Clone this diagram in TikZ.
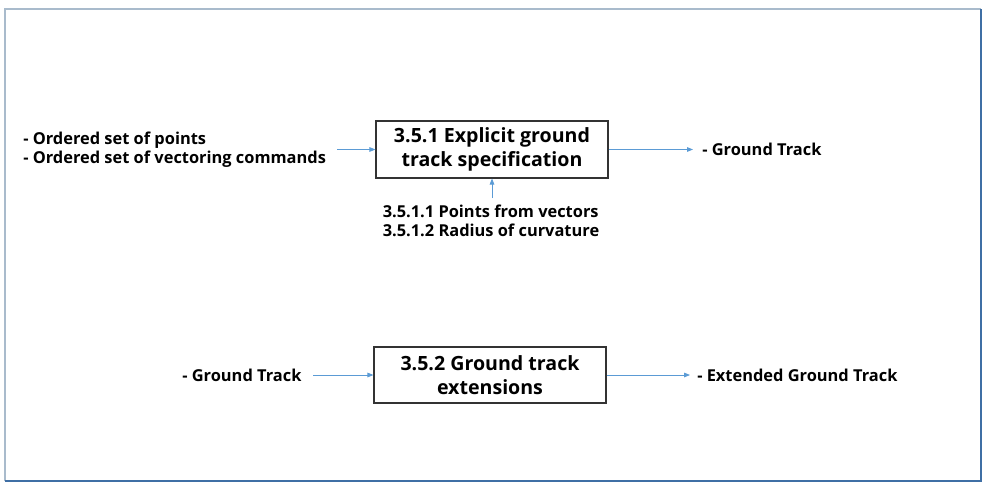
\documentclass[tikz,border=0pt]{standalone}
\usepackage{fontspec}
\setmainfont{Open Sans}
\usetikzlibrary{arrows.meta}
\definecolor{arr}{HTML}{5B9BD5}
\definecolor{frameA}{HTML}{A9BBCC}
\definecolor{frameB}{HTML}{3F6FA5}
\begin{document}
\begin{tikzpicture}[x=0.75pt,y=-0.75pt,
  proc/.style={draw=black!80,line width=0.9pt,minimum width=232*0.75pt,align=center,font=\fontsize{14.7}{18}\selectfont\bfseries,inner sep=0pt},
  lbl/.style={align=left,font=\fontsize{12.3}{14.2}\selectfont\bfseries,inner sep=0pt},
  flow/.style={draw=arr,line width=0.6pt,-{Triangle[length=4.5pt,width=3.5pt]}}]
\useasboundingbox (0,0) rectangle (987,485);
\draw[frameA,line width=1pt] (5,481) -- (5,9) -- (981,9);
\draw[frameB,line width=1pt] (981,9) -- (981,481) -- (5,481);
\node[proc,minimum height=57*0.75pt] (p1) at (492,149.5) {3.5.1 Explicit ground\\track specification};
\node[proc,minimum height=56*0.75pt] (p2) at (490,375) {3.5.2 Ground track\\extensions};
\node[lbl,anchor=west] (in1) at (23,149.5) {- Ordered set of points\\- Ordered set of vectoring commands};
\node[lbl,anchor=west] (out1) at (702,149.5) {- Ground Track};
\node[lbl,anchor=center] (sub1) at (491,221) {3.5.1.1 Points from vectors\\3.5.1.2 Radius of curvature};
\node[lbl,anchor=west] (in2) at (182,375) {- Ground Track};
\node[lbl,anchor=west] (out2) at (697,375) {- Extended Ground Track};
\coordinate (a1) at (337,149.5);
\coordinate (b1) at (693,149.5);
\coordinate (c1) at (492,198);
\coordinate (a2) at (313,375);
\coordinate (b2) at (690,375);
\draw[flow] (a1) -- (p1.west);
\draw[flow] (p1.east) -- (b1);
\draw[flow] (c1) -- (p1.south);
\draw[flow] (a2) -- (p2.west);
\draw[flow] (p2.east) -- (b2);
\end{tikzpicture}
\end{document}
